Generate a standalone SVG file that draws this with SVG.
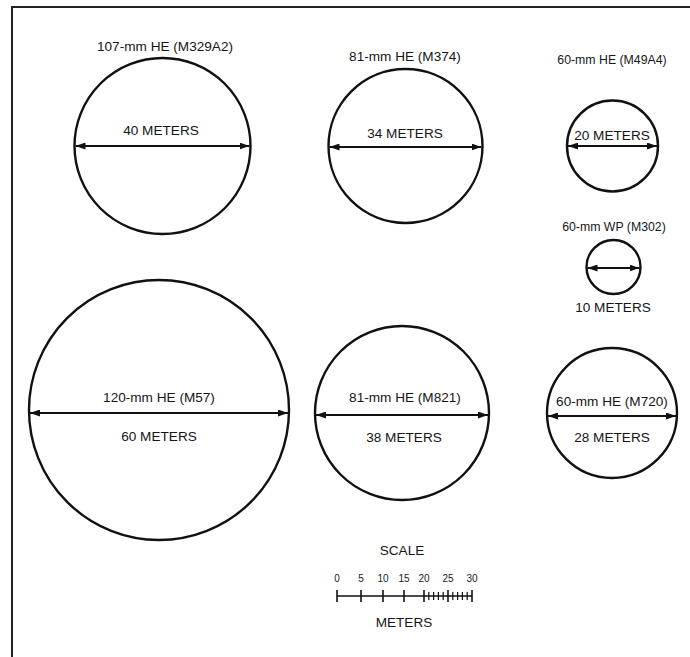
<svg xmlns="http://www.w3.org/2000/svg" width="690" height="657" viewBox="0 0 690 657">
<style>
  .c { fill: none; stroke: #111; stroke-width: 2.4; }
  .dim { stroke: #111; stroke-width: 1.8; fill: none; marker-start: url(#ah); marker-end: url(#ah); }
  .t { font-family: "Liberation Sans", Arial, sans-serif; font-size: 13.6px; fill: #161616; text-anchor: middle; }
  .s { font-size: 12.3px; }
  .n { font-family: "Liberation Sans", Arial, sans-serif; font-size: 10px; fill: #1a1a1a; text-anchor: middle; }
  .tick { stroke: #111; stroke-width: 1.6; }
  .mtick { stroke: #111; stroke-width: 1.2; }
  .frame { stroke: #222; stroke-width: 2; fill: none; }
</style>
<defs>
  <marker id="ah" viewBox="0 0 10 7" refX="10" refY="3.5" markerWidth="10" markerHeight="7" markerUnits="userSpaceOnUse" orient="auto-start-reverse">
    <path d="M0,0 L10,3.5 L0,7 z" fill="#111"/>
  </marker>
</defs>
<rect width="690" height="657" fill="#fff"/>
<path class="frame" d="M12,657 L12,7 L690,7"/>

<g id="n107">
  <circle class="c" cx="162.5" cy="146" r="88"/>
  <text class="t" x="165" y="51">107-mm HE (M329A2)</text>
  <text class="t" x="161" y="135">40 METERS</text>
</g>
<g id="n81a">
  <circle class="c" cx="405.5" cy="146" r="77"/>
  <text class="t" x="405" y="61">81-mm HE (M374)</text>
  <text class="t" x="405" y="138">34 METERS</text>
</g>
<g id="n60a">
  <circle class="c" cx="612.5" cy="146" r="45.5"/>
  <text class="t s" x="612" y="64">60-mm HE (M49A4)</text>
  <text class="t" x="612" y="140">20 METERS</text>
</g>
<g id="n60wp">
  <circle class="c" cx="613.5" cy="267" r="27"/>
  <text class="t s" x="614" y="231">60-mm WP (M302)</text>
  <text class="t" x="613" y="312">10 METERS</text>
</g>
<g id="n120">
  <circle class="c" cx="159" cy="410" r="130"/>
  <text class="t" x="159" y="402">120-mm HE (M57)</text>
  <text class="t" x="159" y="441">60 METERS</text>
</g>
<g id="n81b">
  <circle class="c" cx="402" cy="413" r="87"/>
  <text class="t" x="405" y="402">81-mm HE (M821)</text>
  <text class="t" x="404" y="442">38 METERS</text>
</g>
<g id="n60b">
  <circle class="c" cx="612" cy="413" r="65"/>
  <text class="t" x="612" y="406">60-mm HE (M720)</text>
  <text class="t" x="612" y="442">28 METERS</text>
</g>

<g id="connectors">
  <line class="dim" x1="75.5" y1="146" x2="249.5" y2="146"/>
  <line class="dim" x1="329.5" y1="147" x2="481.5" y2="147"/>
  <line class="dim" x1="568" y1="146" x2="657" y2="146"/>
  <line class="dim" x1="587.5" y1="268" x2="639.5" y2="268"/>
  <line class="dim" x1="30" y1="413" x2="288" y2="413"/>
  <line class="dim" x1="316" y1="415" x2="488" y2="415"/>
  <line class="dim" x1="548" y1="416" x2="676" y2="416"/>
</g>

<g id="scale">
  <text class="t" x="402" y="555">SCALE</text>
  <text class="n" x="337" y="582">0</text>
  <text class="n" x="361" y="582">5</text>
  <text class="n" x="383" y="582">10</text>
  <text class="n" x="404" y="582">15</text>
  <text class="n" x="424" y="582">20</text>
  <text class="n" x="448" y="582">25</text>
  <text class="n" x="472" y="582">30</text>
  <line class="tick" x1="337" y1="596" x2="472" y2="596"/>
  <line class="tick" x1="337" y1="590" x2="337" y2="602"/>
  <line class="tick" x1="361" y1="590" x2="361" y2="602"/>
  <line class="tick" x1="383" y1="590" x2="383" y2="602"/>
  <line class="tick" x1="404" y1="590" x2="404" y2="602"/>
  <line class="tick" x1="424" y1="590" x2="424" y2="602"/>
  <line class="tick" x1="448" y1="590" x2="448" y2="602"/>
  <line class="tick" x1="472" y1="590" x2="472" y2="602"/>
  <line class="mtick" x1="428.8" y1="592" x2="428.8" y2="600"/>
  <line class="mtick" x1="433.6" y1="592" x2="433.6" y2="600"/>
  <line class="mtick" x1="438.4" y1="592" x2="438.4" y2="600"/>
  <line class="mtick" x1="443.2" y1="592" x2="443.2" y2="600"/>
  <line class="mtick" x1="452.8" y1="592" x2="452.8" y2="600"/>
  <line class="mtick" x1="457.6" y1="592" x2="457.6" y2="600"/>
  <line class="mtick" x1="462.4" y1="592" x2="462.4" y2="600"/>
  <line class="mtick" x1="467.2" y1="592" x2="467.2" y2="600"/>
  <text class="t" x="404" y="627">METERS</text>
</g>
</svg>
